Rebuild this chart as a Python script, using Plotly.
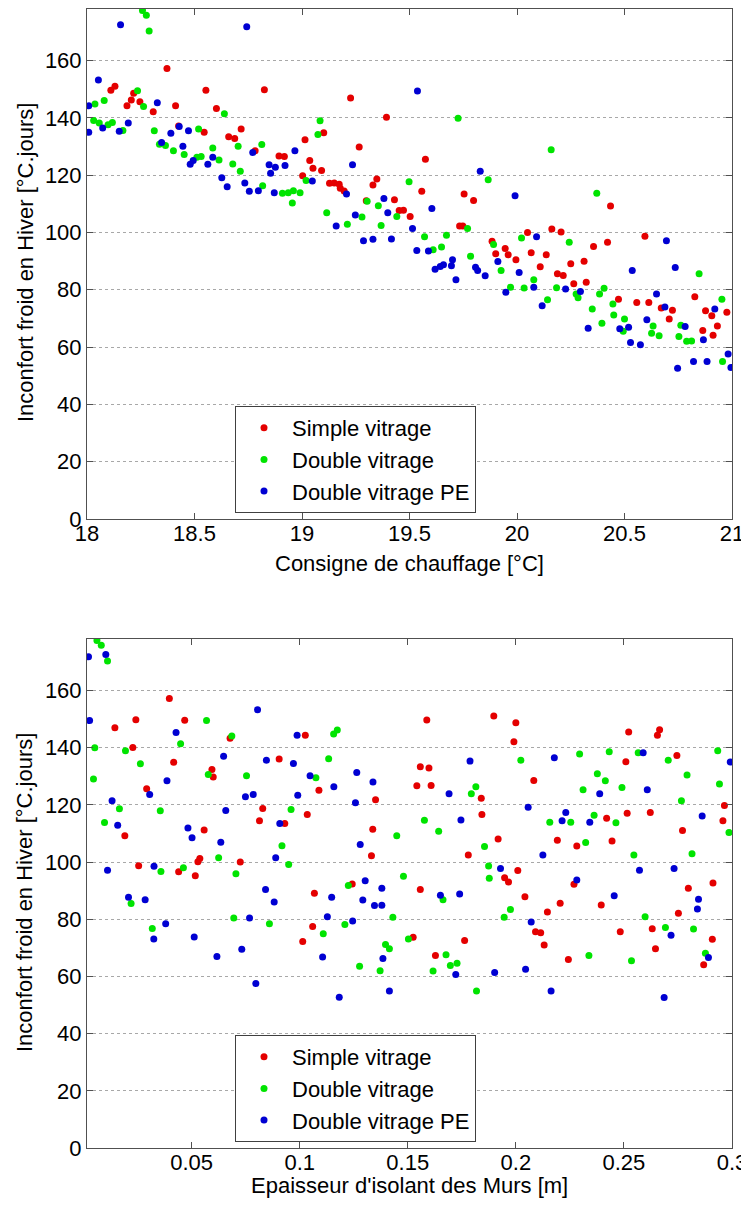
import plotly.graph_objects as go

# --- données : consigne de chauffage (haut) ---
consigne_simple = [18.372, 18.111, 18.130, 18.186, 18.206, 18.217, 18.246, 18.308, 18.412, 18.426,
                   18.553, 18.545, 18.602, 18.659, 18.687, 18.717, 18.782, 18.825, 18.893, 18.918,
                   19.014, 19.003, 19.036, 19.051, 19.091, 19.101, 19.128, 19.150, 19.173, 19.178,
                   19.196, 19.226, 19.266, 19.330, 19.348, 19.299, 19.393, 19.430, 19.452,
                   19.472, 19.503, 19.574, 19.557, 19.754, 19.798, 20.435, 19.733, 19.748, 19.884,
                   19.945, 19.901, 19.959, 19.995, 20.049, 20.162, 20.205, 20.066, 20.136, 20.108,
                   20.250, 20.312, 20.356, 20.421, 20.595,
                   20.188, 20.215, 20.264, 20.322, 20.472, 20.557, 20.613, 20.671, 20.723, 20.708,
                   20.827, 20.877, 20.906, 20.932, 20.864, 20.912, 20.976]
inconfort_simple_1 = [157.2, 149.6, 151.0, 144.2, 146.2, 148.6, 145.6, 142.1, 144.2, 137.2,
                      149.6, 135.0, 143.3, 133.4, 132.8, 136.1, 128.5, 149.8, 126.7, 126.5,
                      132.4, 119.8, 125.1, 122.4, 121.6, 134.8, 117.2, 117.3, 116.8, 115.4,
                      114.5, 146.9, 129.8, 116.6, 118.7, 111.1, 140.2, 111.4, 107.7,
                      107.8, 105.6, 125.6, 114.4, 113.4, 111.2, 109.2, 102.3, 102.3, 96.9,
                      94.4, 92.6, 92.2, 90.5, 100.0, 101.2, 100.2, 92.9, 92.2, 88.0,
                      89.1, 90.0, 95.1, 96.6, 98.7,
                      85.6, 85.0, 82.1, 82.6, 76.7, 75.6, 75.6, 73.6, 72.9, 69.8,
                      77.6, 72.7, 70.9, 67.4, 65.8, 64.1, 72.2]

consigne_double = [18.258, 18.276, 18.289, 18.037, 18.080, 18.031, 18.057, 18.098, 18.118, 18.167,
                   18.235, 18.263, 18.313, 18.337, 18.365, 18.402, 18.452, 18.519, 18.511, 18.531,
                   18.585, 18.614, 18.639, 18.678, 18.703, 18.713, 18.813, 18.817, 18.909, 18.936,
                   18.960, 18.955, 18.991, 19.019, 19.074, 19.084, 19.115, 19.211, 19.279, 19.303,
                   19.355, 19.368, 19.441,
                   19.726, 20.159, 19.498, 19.866, 20.371, 19.770, 19.570, 19.672, 19.610, 19.649,
                   19.891, 19.784, 20.021, 20.243,
                   19.926, 19.970, 20.033, 20.078, 20.142, 20.184, 20.275, 20.284, 20.350, 20.384,
                   20.405, 20.395, 20.446, 20.450, 20.500, 20.494, 20.626, 20.633, 20.661, 20.753,
                   20.762, 20.789, 20.812, 20.847, 20.953, 20.956]
inconfort_double_1 = [177.5, 175.8, 170.3, 144.8, 146.1, 139.1, 138.2, 137.6, 138.4, 135.6,
                      149.5, 144.0, 135.5, 130.8, 130.4, 128.5, 127.2, 136.1, 126.3, 126.5,
                      129.5, 125.3, 141.4, 123.9, 130.1, 121.4, 130.7, 116.3, 113.7, 113.9,
                      114.6, 110.3, 113.9, 118.1, 134.2, 139.0, 106.9, 102.9, 105.4, 110.9,
                      109.3, 102.4, 105.6,
                      139.9, 128.9, 117.7, 118.4, 113.7, 101.4, 98.5, 99.0, 94.0, 94.9,
                      95.8, 91.7, 98.1, 96.6,
                      86.7, 80.9, 80.6, 83.5, 76.5, 80.7, 78.5, 77.2, 73.3, 78.5,
                      80.5, 68.3, 75.0, 71.2, 69.8, 65.5, 64.8, 67.4, 64.0, 63.7,
                      67.6, 62.0, 62.1, 85.6, 76.7, 55.0]

consigne_pe = [18.156, 18.743, 18.053, 18.008, 18.008, 18.073, 18.150, 18.192, 18.327, 18.347,
               18.390, 18.429, 18.446, 18.472, 18.480, 18.494, 18.562, 18.585, 18.627, 18.652,
               18.734, 18.755, 18.771, 18.797, 18.847, 18.854, 18.876, 18.871, 18.921, 18.967,
               19.048, 19.159, 19.207, 19.235, 19.248, 19.286, 19.330, 19.381, 19.399, 19.416,
               19.537, 19.829, 19.991, 19.604, 19.514, 20.091, 19.534, 19.588, 19.700, 20.695,
               19.619, 19.643, 19.658, 19.695, 19.716, 19.807, 19.817, 19.852, 19.911, 20.010,
               19.948, 20.078, 20.117, 20.226, 20.295, 20.536, 20.736, 20.331, 20.478, 20.519,
               20.528, 20.574, 20.604, 20.649, 20.688, 20.782, 20.867, 20.920, 20.747, 20.821,
               20.884, 20.982, 20.995]
inconfort_pe_1 = [172.5, 171.8, 153.2, 144.2, 135.0, 136.5, 135.3, 138.2, 145.3, 131.4,
                  134.6, 137.0, 130.1, 135.5, 123.8, 125.1, 123.8, 126.3, 119.1, 116.0,
                  117.3, 114.4, 127.9, 114.6, 123.6, 120.7, 122.8, 113.9, 123.4, 128.5,
                  118.0, 102.3, 113.4, 123.6, 106.1, 97.1, 97.6, 111.9, 106.9, 97.7,
                  149.4, 121.4, 112.8, 108.4, 101.4, 98.5, 93.7, 93.5, 90.5, 97.1,
                  87.2, 88.1, 88.7, 88.4, 83.5, 87.9, 86.7, 84.9, 89.9, 86.0,
                  79.1, 80.9, 74.4, 80.3, 79.4, 86.7, 87.8, 66.6, 66.4, 66.9,
                  61.6, 60.8, 69.5, 78.5, 74.0, 67.2, 62.6, 73.3, 52.6, 55.0,
                  55.0, 57.6, 52.9]

# --- données : épaisseur d'isolant (bas) ---
epaisseur_simple = [0.0397, 0.0242, 0.0468, 0.0145, 0.0228, 0.0678, 0.1026, 0.0417, 0.0905, 0.0594,
                    0.0600, 0.0292, 0.1089, 0.0829, 0.1351, 0.0814, 0.0931, 0.1035, 0.0191, 0.0558,
                    0.1338, 0.1332, 0.0255, 0.0440, 0.0529, 0.0538, 0.0725, 0.0517, 0.1243,
                    0.1588, 0.1898, 0.2000, 0.1991, 0.2522, 0.2665, 0.2655, 0.2745, 0.2509, 0.1558,
                    0.1598, 0.1542, 0.1608, 0.2083, 0.1840, 0.1843, 0.2965, 0.2958, 0.2515, 0.2622,
                    0.2420, 0.2771, 0.1918, 0.2192, 0.2445, 0.2282, 0.1780, 0.2009, 0.1948, 0.1966,
                    0.2269, 0.2798, 0.2912, 0.1558,
                    0.1068, 0.1060, 0.1014,
                    0.1525, 0.1628, 0.1763, 0.2042, 0.2091, 0.2115, 0.2131, 0.2146, 0.2205, 0.2243,
                    0.2395, 0.2483, 0.2631, 0.2646, 0.2752, 0.2869, 0.2909]
inconfort_simple_2 = [157.2, 149.8, 149.6, 147.0, 140.1, 143.3, 144.3, 134.9, 136.0, 132.4,
                      129.7, 125.6, 125.1, 118.7, 121.8, 114.4, 113.5, 116.6, 109.2, 111.2,
                      111.5, 102.2, 98.7, 96.6, 100.1, 101.2, 100.0, 95.2, 92.3,
                      149.7, 151.1, 148.7, 142.1, 145.5, 146.3, 144.3, 137.3, 135.1, 133.3,
                      132.9, 126.7, 126.8, 128.5, 122.3, 116.6, 119.8, 114.4, 117.1, 117.3,
                      115.3, 111.0, 108.1, 107.6, 107.4, 105.6, 102.5, 97.0, 94.5, 93.0,
                      92.2, 90.8, 92.7, 90.4,
                      89.1, 77.5, 72.2,
                      73.7, 67.3, 72.6, 87.9, 75.6, 75.3, 71.0, 82.5, 85.6, 65.9,
                      85.0, 75.6, 76.7, 69.7, 82.1, 64.1, 73.0]

epaisseur_double = [0.0062, 0.0082, 0.0111, 0.0052, 0.0046, 0.0194, 0.0263, 0.0449, 0.0569, 0.0686,
                    0.0577, 0.0754, 0.0166, 0.0097, 0.0355, 0.0960, 0.1075, 0.1134, 0.1157, 0.1174,
                    0.0918, 0.0625, 0.0949, 0.0462, 0.0358, 0.0705, 0.1449, 0.1480, 0.1225,
                    0.2934, 0.2432, 0.2566, 0.2295, 0.2023, 0.2705, 0.2377, 0.2414, 0.2792, 0.1815,
                    0.1794, 0.2311, 0.2491, 0.2942, 0.2766, 0.1577, 0.1643, 0.2157, 0.2254, 0.2362,
                    0.2463, 0.2323, 0.1855, 0.2546, 0.2815, 0.2986, 0.1874, 0.1877,
                    0.0220, 0.0318, 0.0695, 0.0860, 0.1109, 0.1209, 0.1397, 0.1415, 0.1431, 0.1277,
                    0.1372, 0.1503,
                    0.1663, 0.1677, 0.1617, 0.1697, 0.1728, 0.1818, 0.1946, 0.1975, 0.2338, 0.2535,
                    0.2598, 0.2692, 0.2822, 0.2877]
inconfort_double_2 = [177.5, 175.8, 170.3, 140.0, 129.0, 138.9, 134.4, 141.4, 149.5, 144.1,
                      130.6, 130.2, 118.6, 113.8, 117.9, 118.4, 129.5, 136.1, 144.8, 146.2,
                      105.7, 101.5, 99.1, 98.0, 96.7, 95.9, 109.2, 95.0, 91.8,
                      138.9, 138.6, 138.2, 137.8, 135.6, 135.6, 130.9, 128.4, 130.4, 126.3,
                      123.9, 125.3, 126.1, 127.3, 121.4, 114.6, 110.8, 113.9, 113.9, 116.4,
                      113.7, 106.8, 105.4, 102.5, 102.9, 110.3, 98.6, 94.3,
                      85.5, 76.8, 80.4, 78.4, 74.9, 78.2, 71.2, 69.7, 80.7, 63.6,
                      62.0, 73.1,
                      86.8, 67.6, 61.9, 63.8, 64.6, 54.9, 80.7, 83.4, 67.3, 65.5,
                      80.9, 77.1, 76.6, 68.1]

epaisseur_pe = [0.0023, 0.0103, 0.0028, 0.0805, 0.0428, 0.0988, 0.0648, 0.0846, 0.0971, 0.0386,
                0.0306, 0.1048, 0.0991, 0.0749, 0.0785, 0.1158, 0.1264, 0.1339, 0.1258, 0.0132,
                0.0158, 0.0658, 0.0908, 0.0483, 0.0502, 0.0635, 0.1280, 0.0889, 0.0326, 0.0111,
                0.1303, 0.1380, 0.0842,
                0.1788, 0.2178, 0.2589, 0.2992, 0.1691, 0.2388, 0.2608, 0.2057, 0.1746, 0.2231,
                0.2214, 0.2342, 0.2862, 0.2125, 0.1929, 0.2572, 0.2732, 0.2282,
                0.0208, 0.0285, 0.0380, 0.0325, 0.0512, 0.0617, 0.0768, 0.0732, 0.0797, 0.0882,
                0.1128, 0.1148, 0.1106, 0.1245, 0.1292, 0.1346, 0.1380, 0.1385, 0.1183, 0.1415,
                0.1651, 0.1740, 0.1722, 0.1902, 0.2071, 0.2045, 0.2163, 0.2455, 0.2718, 0.2686,
                0.2845, 0.2840, 0.2891]
inconfort_pe_2 = [171.8, 172.6, 149.5, 153.3, 145.3, 144.3, 137.0, 135.6, 134.5, 128.4,
                  123.6, 130.2, 123.4, 122.8, 123.6, 126.3, 131.3, 128.0, 120.7, 121.4,
                  112.9, 118.0, 113.5, 111.9, 108.5, 106.9, 106.1, 101.5, 98.5, 97.1,
                  93.5, 90.8, 90.4,
                  135.3, 136.5, 138.2, 135.0, 123.9, 123.9, 125.3, 119.2, 114.7, 117.3,
                  114.4, 113.9, 116.1, 102.5, 97.7, 97.1, 97.7, 93.7,
                  87.7, 86.8, 78.4, 73.1, 73.8, 67.0, 80.4, 69.5, 57.5, 86.0,
                  80.9, 87.7, 66.8, 79.4, 86.7, 84.8, 84.9, 66.3, 52.7, 54.9,
                  88.4, 88.8, 60.7, 61.4, 79.0, 62.5, 54.9, 88.2, 74.4, 52.6,
                  87.0, 83.6, 66.6]

noms = ["Simple vitrage", "Double vitrage", "Double vitrage PE"]
couleurs = ["rgb(228,0,0)", "rgb(0,228,0)", "rgb(0,0,210)"]

ticks_consigne = [18, 18.5, 19, 19.5, 20, 20.5, 21]
ticks_consigne_txt = ["18", "18.5", "19", "19.5", "20", "20.5", "21"]
ticks_epaisseur = [0.05, 0.1, 0.15, 0.2, 0.25, 0.3]
ticks_epaisseur_txt = ["0.05", "0.1", "0.15", "0.2", "0.25", "0.3"]
ticks_inconfort = [0, 20, 40, 60, 80, 100, 120, 140, 160]

FONT = "Liberation Sans, Arial, sans-serif"
# la page html garde une marge de 8px autour de la figure
OFF = 8
W, H = 749 - 2 * OFF, 1207 - 2 * OFF


def px(x):
    return (x - OFF) / W


def py(y):
    return (H - (y - OFF)) / H


fig = go.Figure()

haut = [(consigne_simple, inconfort_simple_1), (consigne_double, inconfort_double_1),
        (consigne_pe, inconfort_pe_1)]
bas = [(epaisseur_simple, inconfort_simple_2), (epaisseur_double, inconfort_double_2),
       (epaisseur_pe, inconfort_pe_2)]

for i, (xs, ys) in enumerate(haut):
    fig.add_trace(go.Scatter(x=xs, y=ys, mode="markers", name=noms[i],
                             marker=dict(color=couleurs[i], size=7),
                             xaxis="x", yaxis="y", legend="legend"))
for i, (xs, ys) in enumerate(bas):
    fig.add_trace(go.Scatter(x=xs, y=ys, mode="markers", name=noms[i],
                             marker=dict(color=couleurs[i], size=7),
                             xaxis="x2", yaxis="y2", legend="legend2"))

axe = dict(showline=True, linecolor="#505050", linewidth=1, mirror="ticks",
           ticks="inside", ticklen=6, tickcolor="#505050", zeroline=False,
           tickfont=dict(family=FONT, size=22, color="black"), automargin=False)
axe_x = dict(axe, showgrid=False, ticklabeloverflow="allow", ticklabelstandoff=-5)

xdom = [px(87), px(732)]
leg = dict(xanchor="left", yanchor="top", bgcolor="white", bordercolor="#404040",
           borderwidth=1, itemwidth=46, tracegroupgap=0,
           font=dict(family=FONT, size=22, color="black"))

fig.update_layout(
    width=W, height=H, autosize=False,
    margin=dict(l=0, r=0, t=0, b=0),
    paper_bgcolor="white", plot_bgcolor="white",
    xaxis=dict(axe_x, domain=xdom, range=[18, 21], tickvals=ticks_consigne,
               ticktext=ticks_consigne_txt, anchor="y"),
    yaxis=dict(axe, domain=[py(519), py(9)], range=[0, 178],
               tickvals=ticks_inconfort, showgrid=True, gridcolor="#a8a8a8",
               griddash="dot", anchor="x"),
    xaxis2=dict(axe_x, domain=xdom, range=[0.0016, 0.3], tickvals=ticks_epaisseur,
                ticktext=ticks_epaisseur_txt, anchor="y2"),
    yaxis2=dict(axe, domain=[py(1148), py(639)], range=[0, 178],
                tickvals=ticks_inconfort, showgrid=True, gridcolor="#a8a8a8",
                griddash="dot", anchor="x2"),
    legend=dict(leg, x=px(235), y=py(406)),
    legend2=dict(leg, x=px(235), y=py(1035)),
)

titre_y = "Inconfort froid en Hiver [°C.jours]"
annots = [
    dict(text="Consigne de chauffage [°C]", x=px((87 + 732) / 2), y=py(563)),
    dict(text="Epaisseur d'isolant des Murs [m]", x=px((87 + 732) / 2), y=py(1185)),
    dict(text=titre_y, x=px(25), y=py(263), textangle=-90),
    dict(text=titre_y, x=px(25), y=py(893), textangle=-90),
]
for a in annots:
    fig.add_annotation(xref="paper", yref="paper", showarrow=False,
                       xanchor="center", yanchor="middle",
                       font=dict(family=FONT, size=22, color="black"), **a)

fig.write_html("out.html")
